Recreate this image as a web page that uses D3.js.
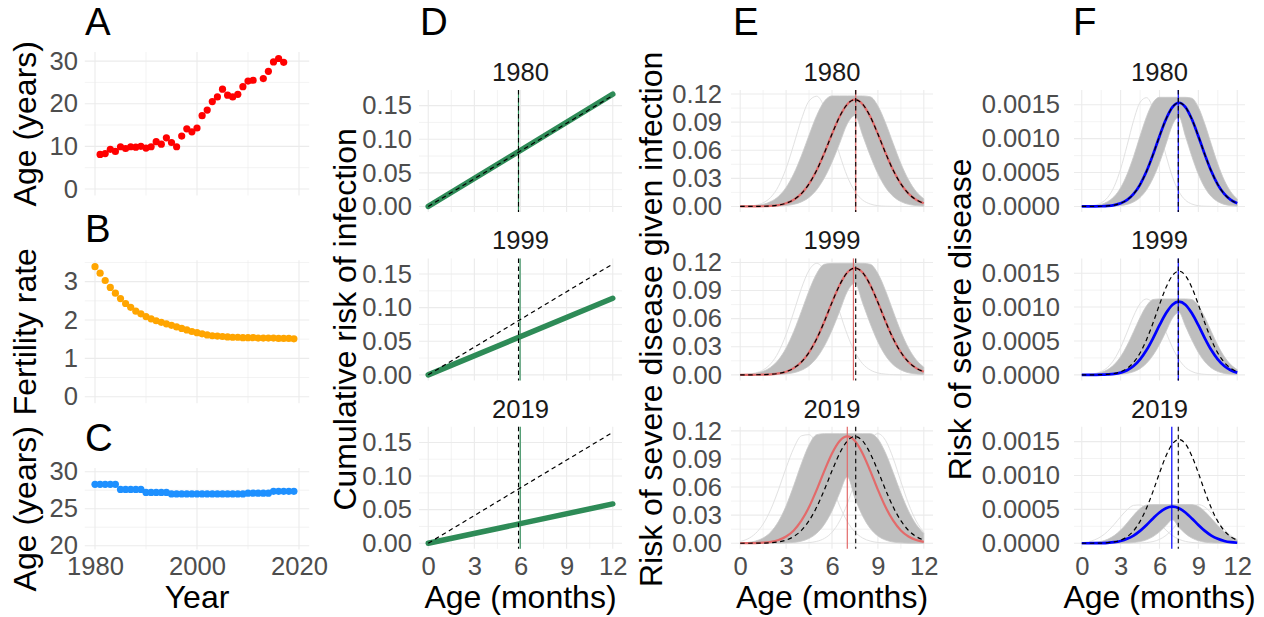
<!DOCTYPE html>
<html><head><meta charset="utf-8">
<script src="https://cdn.jsdelivr.net/npm/d3@7/dist/d3.min.js"></script>
<style>html,body{margin:0;padding:0;background:#fff;overflow:hidden}</style>
</head><body>
<svg id="chart" width="1264" height="617" xmlns="http://www.w3.org/2000/svg"></svg>
<script>
// ================= DATA =================
// Panel A: age (years) by year
const yearsA=[1981,1982,1983,1984,1985,1986,1987,1988,1989,1990,1991,1992,1993,1994,1995,1996,1997,1998,1999,2000,2001,2002,2003,2004,2005,2006,2007,2008,2009,2010,2011,2013,2014,2015,2016,2017];
const ageA=[8.1,8.3,9.3,8.8,9.9,9.5,9.9,9.8,10.0,9.6,9.9,11.1,10.5,12.0,10.9,9.9,12.4,14.1,13.4,14.3,17.2,18.5,20.5,21.6,23.4,22.0,21.6,22.2,24.0,25.3,25.5,25.9,27.6,29.8,30.6,29.7];
// Panels B and C
const yearsBC=[1980,1981,1982,1983,1984,1985,1986,1987,1988,1989,1990,1991,1992,1993,1994,1995,1996,1997,1998,1999,2000,2001,2002,2003,2004,2005,2006,2007,2008,2009,2010,2011,2012,2013,2014,2015,2016,2017,2018,2019];
const fertility=[3.39,3.22,3.03,2.85,2.70,2.56,2.43,2.33,2.23,2.16,2.09,2.03,1.98,1.94,1.90,1.86,1.82,1.78,1.74,1.70,1.67,1.64,1.61,1.59,1.58,1.57,1.56,1.55,1.55,1.54,1.54,1.54,1.53,1.53,1.53,1.53,1.52,1.52,1.52,1.51];
const maternalAge=[28.3,28.3,28.3,28.3,28.3,27.6,27.6,27.6,27.6,27.6,27.2,27.2,27.2,27.2,27.2,27.0,27.0,27.0,27.0,27.0,27.0,27.0,27.0,27.0,27.0,27.0,27.0,27.0,27.0,27.0,27.1,27.1,27.1,27.1,27.1,27.35,27.35,27.35,27.35,27.35];
// Facets
const facetYears=["1980","1999","2019"];
// Panel D: cumulative risk of infection (linear over 0-12 months)
const dAge=[0,12];
const dRisk1980=[0,0.167];
const dRisk1999=[0,0.114];
const dRisk2019=[0,0.0585];
const dRef=[0,0.165];
const dVline=[5.87,5.97,5.98];
const dRefVline=5.87;
// Panels E, F: age grid (months)
const ageGrid=[0,0.5,1,1.5,2,2.5,3,3.5,4,4.5,5,5.5,6,6.5,7,7.5,8,8.5,9,9.5,10,10.5,11,11.5,12];
const eRisk1980=[0.0000,0.0000,0.0001,0.0002,0.0006,0.0015,0.0034,0.0072,0.0137,0.0241,0.0386,0.0570,0.0773,0.0959,0.1092,0.1140,0.1092,0.0959,0.0773,0.0570,0.0386,0.0241,0.0137,0.0072,0.0034];
const eRisk1999=[0.0000,0.0000,0.0001,0.0002,0.0006,0.0015,0.0034,0.0072,0.0137,0.0241,0.0386,0.0570,0.0773,0.0959,0.1092,0.1140,0.1092,0.0959,0.0773,0.0570,0.0386,0.0241,0.0137,0.0072,0.0034];
const eRisk2019=[0.0000,0.0001,0.0002,0.0006,0.0015,0.0034,0.0072,0.0137,0.0241,0.0386,0.0570,0.0773,0.0959,0.1092,0.1140,0.1092,0.0959,0.0773,0.0570,0.0386,0.0241,0.0137,0.0072,0.0034,0.0015];
const fRisk1980=[0,0.0000003,0.000001,0.000003,0.000008,0.000020,0.000046,0.000096,0.000184,0.000323,0.000519,0.000765,0.001037,0.001287,0.001466,0.001530,0.001466,0.001287,0.001037,0.000765,0.000519,0.000323,0.000184,0.000096,0.000046];
const fRisk1999=[0,0.0000002,0.0000008,0.000002,0.000006,0.000014,0.000033,0.000068,0.000130,0.000228,0.000366,0.000540,0.000732,0.000908,0.001035,0.001080,0.001035,0.000908,0.000732,0.000540,0.000366,0.000228,0.000130,0.000068,0.000033];
const fRisk2019=[0.0000001,0.0000004,0.000001,0.000003,0.000007,0.000016,0.000034,0.000065,0.000114,0.000183,0.000270,0.000366,0.000454,0.000517,0.000540,0.000517,0.000454,0.000366,0.000270,0.000183,0.000114,0.000065,0.000034,0.000016,0.000007];
const eVline=[7.55,7.4,7.0];
const eRefVline=7.55;
const fVline=[7.45,7.45,6.95];
const fRefVline=7.45;
// Grey uncertainty bundle: envelope shape (relative to bundle top) per facet year
const bandUpper1980=[0.001,0.003,0.008,0.019,0.044,0.091,0.172,0.295,0.458,0.645,0.823,0.952,1,1,1,1,1,0.992,0.909,0.755,0.569,0.389,0.241,0.135,0.069];
const bandLower1980=[0,0,0,0,0.001,0.003,0.008,0.019,0.041,0.082,0.152,0.258,0.400,0.571,0.747,0.823,0.645,0.458,0.295,0.172,0.091,0.044,0.019,0.008,0.003];
const bandUpper1999=[0.002,0.005,0.013,0.032,0.069,0.135,0.241,0.389,0.569,0.755,0.909,0.992,1,1,1,1,1,0.992,0.909,0.755,0.569,0.389,0.241,0.135,0.069];
const bandLower1999=[0,0,0,0,0.001,0.003,0.008,0.019,0.041,0.082,0.152,0.258,0.400,0.571,0.747,0.823,0.645,0.458,0.295,0.172,0.091,0.044,0.019,0.008,0.003];
const bandUpper2019=[0.003,0.007,0.020,0.048,0.103,0.198,0.341,0.526,0.726,0.897,0.991,1,1,1,1,1,1,1,0.952,0.823,0.645,0.458,0.295,0.172,0.091];
const bandLower2019=[0,0,0,0.0001,0.0003,0.0009,0.0027,0.0076,0.019,0.044,0.091,0.172,0.295,0.458,0.607,0.411,0.249,0.135,0.066,0.029,0.011,0.004,0.001,0.0003,0.0001];
const bandTopE=[0.118,0.119,0.117];
const bandTopF=[0.00161,0.00112,0.00057];
// faint outlying draws (relative shape)
const faint1980=[0.001,0.003,0.011,0.033,0.083,0.182,0.344,0.560,0.787,0.954,0.997,0.899,0.699,0.469,0.271,0.135,0.058,0.022,0.007,0.002,0.0005,0,0,0,0];
const faint1999=[0.002,0.006,0.017,0.044,0.100,0.203,0.361,0.563,0.775,0.938,1,0.938,0.775,0.563,0.361,0.203,0.100,0.044,0.017,0.006,0.002,0,0,0,0];
const faint2019a=[0.016,0.040,0.089,0.175,0.309,0.487,0.687,0.867,0.980,0.991,0.897,0.726,0.526,0.341,0.198,0.103,0.048,0.020,0.007,0.003,0.001,0,0,0,0];
const faint2019b=[0,0,0,0,0,0,0,0,0.002,0.006,0.017,0.044,0.100,0.203,0.361,0.563,0.775,0.938,1,0.938,0.775,0.563,0.361,0.203,0.100];
// tick values
const ticksYearMajor=[1980,2000,2020], ticksYearMinor=[1990,2010];
const ticksAMajor=[0,10,20,30], ticksAMinor=[5,15,25];
const ticksBMajor=[0,1,2,3], ticksBMinor=[0.5,1.5,2.5,3.5];
const ticksCMajor=[20,25,30], ticksCMinor=[22.5,27.5];
const ticksAgeMajor=[0,3,6,9,12], ticksAgeMinor=[1.5,4.5,7.5,10.5];
const ticksDMajor=[0,0.05,0.10,0.15], ticksDMinor=[0.025,0.075,0.125];
const ticksEMajor=[0,0.03,0.06,0.09,0.12], ticksEMinor=[0.015,0.045,0.075,0.105];
const ticksFMajor=[0,0.0005,0.0010,0.0015], ticksFMinor=[0.00025,0.00075,0.00125];

// ================= DRAW =================
const FONT='"Liberation Sans", Arial, Helvetica, sans-serif';
const TICK_FS=25.6, TITLE_FS=32, TAG_FS=38.4, STRIP_FS=25.6;
const GRID="#ebebeb";
const svg=d3.select("#chart");
svg.append("rect").attr("width",1264).attr("height",617).attr("fill","#fff");

function grid(g,x,y,xMaj,xMin,yMaj,yMin){
  const [x0,x1]=x.range(); const [yb,yt]=y.range();
  const add=(vals,horiz,w)=>g.append("g").selectAll("line").data(vals).join("line")
    .attr("x1",d=>horiz?x0:x(d)).attr("x2",d=>horiz?x1:x(d))
    .attr("y1",d=>horiz?y(d):yb).attr("y2",d=>horiz?y(d):yt)
    .attr("stroke",GRID).attr("stroke-width",w);
  add(yMin,true,0.6); add(xMin,false,0.6); add(yMaj,true,1.1); add(xMaj,false,1.1);
}
function styleAxis(ax){
  ax.select(".domain").remove();
  ax.selectAll("text").attr("font-size",TICK_FS).attr("fill","#4d4d4d").attr("font-family",FONT);
}
function leftLabels(g,y,vals,fmt,xr){
  const ax=g.append("g").attr("transform",`translate(${xr},0)`)
    .call(d3.axisLeft(y).tickValues(vals).tickFormat(fmt).tickSize(0).tickPadding(0));
  styleAxis(ax);
}
function bottomLabels(g,x,vals,fmt,yt){
  const ax=g.append("g").attr("transform",`translate(0,${yt})`)
    .call(d3.axisBottom(x).tickValues(vals).tickFormat(fmt).tickSize(0).tickPadding(0));
  styleAxis(ax);
}
function label(str,x,y,fs,opts={}){
  const t=svg.append("text").attr("x",x).attr("y",y).attr("font-size",fs)
    .attr("font-family",FONT).attr("fill",opts.fill||"#000")
    .attr("text-anchor",opts.anchor||"middle").text(str);
  return t;
}
function vTitle(str,cx,cy){
  svg.append("text").attr("transform",`translate(${cx+10},${cy}) rotate(-90)`)
    .attr("font-size",TITLE_FS).attr("font-family",FONT).attr("text-anchor","middle").attr("fill","#000").text(str);
}

// ---- Panels A, B, C ----
const xYear=d3.scaleLinear().domain([1978,2022]).range([84.8,309.2]);
const fmtInt=d3.format("d");
const leftABC=[
  {y:d3.scaleLinear().domain([-1.53,32.13]).range([195.5,52]), maj:ticksAMajor, min:ticksAMinor, xs:yearsA, ys:ageA, col:"#ff0000", title:"Age (years)", tag:"A", tagY:35},
  {y:d3.scaleLinear().domain([-0.1695,3.5595]).range([403.2,260.2]), maj:ticksBMajor, min:ticksBMinor, xs:yearsBC, ys:fertility, col:"#ffa500", title:"Fertility rate", tag:"B", tagY:242},
  {y:d3.scaleLinear().domain([19.5,30.5]).range([549.4,468]), maj:ticksCMajor, min:ticksCMinor, xs:yearsBC, ys:maternalAge, col:"#1e90ff", title:"Age (years)", tag:"C", tagY:451}
];
leftABC.forEach((p,i)=>{
  const g=svg.append("g");
  grid(g,xYear,p.y,ticksYearMajor,ticksYearMinor,p.maj,p.min);
  g.append("g").selectAll("circle").data(p.xs.map((d,k)=>[d,p.ys[k]])).join("circle")
    .attr("cx",d=>xYear(d[0])).attr("cy",d=>p.y(d[1])).attr("r",3.6).attr("fill",p.col);
  leftLabels(g,p.y,p.maj,fmtInt,78);
  const [yb,yt]=p.y.range();
  vTitle(p.title,26,(yb+yt)/2);
  label(p.tag,85,p.tagY,TAG_FS,{anchor:"start"});
  if(i===2){
    bottomLabels(g,xYear,ticksYearMajor,fmtInt,557);
    label("Year",197,608,TITLE_FS);
  }
});

// ---- Facet panels D, E, F ----
const rowTop=[90,258.4,426.8], rowH=122;
const colD=[419,622], colE=[731,933], colF=[1074,1245];
const xD=d3.scaleLinear().domain([-0.6,12.6]).range(colD);
const xE=d3.scaleLinear().domain([-0.6,12.6]).range(colE);
const xF=d3.scaleLinear().domain([-0.6,12.6]).range(colF);
const fmtAge=d3.format("d");
const dRisks=[dRisk1980,dRisk1999,dRisk2019];
const eRisks=[eRisk1980,eRisk1999,eRisk2019];
const fRisks=[fRisk1980,fRisk1999,fRisk2019];
const bandsU=[bandUpper1980,bandUpper1999,bandUpper2019];
const bandsL=[bandLower1980,bandLower1999,bandLower2019];
const faints=[[faint1980],[faint1999],[faint2019a,faint2019b]];

const green="#2e8b57", red="#e36a6a", blue="#0000ff";

function stripText(str,col,r){
  label(str,(col[0]+col[1])/2,rowTop[r]-9.1,STRIP_FS,{fill:"#1a1a1a"});
}

facetYears.forEach((yr,r)=>{
  const top=rowTop[r], bot=top+rowH;
  // ---- D ----
  {
    const y=d3.scaleLinear().domain([-0.00825,0.17325]).range([bot,top]);
    const g=svg.append("g");
    grid(g,xD,y,ticksAgeMajor,ticksAgeMinor,ticksDMajor,ticksDMinor);
    const line=d3.line().x(d=>xD(d[0])).y(d=>y(d[1]));
    g.append("path").datum(dAge.map((a,k)=>[a,dRisks[r][k]])).attr("d",line)
      .attr("fill","none").attr("stroke",green).attr("stroke-width",5.5).attr("stroke-linecap","round");
    g.append("line").attr("x1",xD(dVline[r])).attr("x2",xD(dVline[r])).attr("y1",top).attr("y2",bot)
      .attr("stroke",green).attr("stroke-width",1.2);
    g.append("path").datum(dAge.map((a,k)=>[a,dRef[k]])).attr("d",line)
      .attr("fill","none").attr("stroke","#000").attr("stroke-width",1.2).attr("stroke-dasharray","4.5,3.5");
    g.append("line").attr("x1",xD(dRefVline)).attr("x2",xD(dRefVline)).attr("y1",top).attr("y2",bot)
      .attr("stroke","#000").attr("stroke-width",1.1).attr("stroke-dasharray","4.5,3.5");
    leftLabels(g,y,ticksDMajor,d3.format(".2f"),412);
    stripText(yr,colD,r);
    if(r===2) bottomLabels(g,xD,ticksAgeMajor,fmtAge,557);
  }
  // ---- E and F ----
  [
    {x:xE,col:colE,y:d3.scaleLinear().domain([-0.00592,0.1243]).range([bot,top]),maj:ticksEMajor,min:ticksEMinor,
     main:eRisks[r],ref:eRisk1980,top:bandTopE[r],vl:eVline[r],rvl:eRefVline,color:red,w:2.2,fmt:d3.format(".2f"),lx:722},
    {x:xF,col:colF,y:d3.scaleLinear().domain([-0.0000818,0.001718]).range([bot,top]),maj:ticksFMajor,min:ticksFMinor,
     main:fRisks[r],ref:fRisk1980,top:bandTopF[r],vl:fVline[r],rvl:fRefVline,color:blue,w:2.7,fmt:d3.format(".4f"),lx:1060}
  ].forEach(P=>{
    const g=svg.append("g");
    grid(g,P.x,P.y,ticksAgeMajor,ticksAgeMinor,P.maj,P.min);
    const line=d3.line().x(d=>P.x(d[0])).y(d=>P.y(d[1])).curve(d3.curveMonotoneX);
    faints[r].forEach(f=>{
      g.append("path").datum(ageGrid.map((a,k)=>[a,f[k]*P.top])).attr("d",line)
        .attr("fill","none").attr("stroke","#e2e2e2").attr("stroke-width",1);
    });
    const area=d3.area().x(d=>P.x(d[0])).y0(d=>P.y(d[1]*P.top)).y1(d=>P.y(d[2]*P.top)).curve(d3.curveMonotoneX);
    g.append("path").datum(ageGrid.map((a,k)=>[a,bandsL[r][k],bandsU[r][k]])).attr("d",area)
      .attr("fill","#bebebe").attr("stroke","#c8c8c8").attr("stroke-width",0.8);
    g.append("line").attr("x1",P.x(P.vl)).attr("x2",P.x(P.vl)).attr("y1",top).attr("y2",bot)
      .attr("stroke",P.color).attr("stroke-width",1.2);
    g.append("path").datum(ageGrid.map((a,k)=>[a,P.main[k]])).attr("d",line)
      .attr("fill","none").attr("stroke",P.color).attr("stroke-width",P.w);
    g.append("path").datum(ageGrid.map((a,k)=>[a,P.ref[k]])).attr("d",line)
      .attr("fill","none").attr("stroke","#000").attr("stroke-width",1.2).attr("stroke-dasharray","4.5,3.5");
    g.append("line").attr("x1",P.x(P.rvl)).attr("x2",P.x(P.rvl)).attr("y1",top).attr("y2",bot)
      .attr("stroke","#000").attr("stroke-width",1.1).attr("stroke-dasharray","4.5,3.5");
    leftLabels(g,P.y,P.maj,P.fmt,P.lx);
    stripText(yr,P.col,r);
    if(r===2) bottomLabels(g,P.x,ticksAgeMajor,fmtAge,557);
  });
});

// titles and tags for D, E, F
const midY=(rowTop[0]+rowTop[2]+rowH)/2;
vTitle("Cumulative risk of infection",346,midY);
vTitle("Risk of severe disease given infection",652,midY);
vTitle("Risk of severe disease",961,midY);
label("D",420,35,TAG_FS,{anchor:"start"});
label("E",733,35,TAG_FS,{anchor:"start"});
label("F",1073,35,TAG_FS,{anchor:"start"});
label("Age (months)",(colD[0]+colD[1])/2,608,TITLE_FS);
label("Age (months)",(colE[0]+colE[1])/2,608,TITLE_FS);
label("Age (months)",(colF[0]+colF[1])/2,608,TITLE_FS);
</script>
</body></html>
